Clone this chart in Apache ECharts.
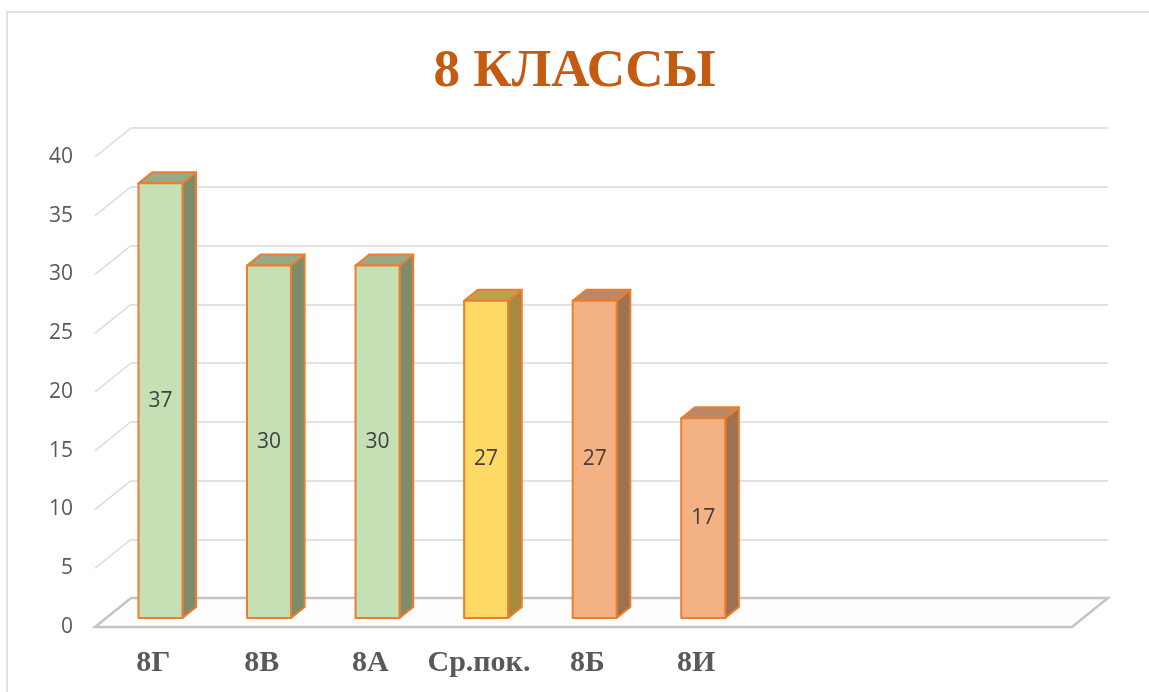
<!DOCTYPE html>
<html>
<head>
<meta charset="utf-8">
<script src="https://cdn.jsdelivr.net/npm/echarts@6/dist/echarts.min.js"></script>
<style>
  html, body { margin: 0; padding: 0; background: #fff; }
  #main { width: 1149px; height: 692px; }
</style>
</head>
<body>
<div id="main"></div>
<script>
// данные
var categories = ['8Г', '8В', '8А', 'Ср.пок.', '8Б', '8И', '', '', ''];
var values = [37, 30, 30, 27, 27, 17, null, null, null];
var yTicks = [0, 5, 10, 15, 20, 25, 30, 35, 40];

// цвета столбцов (перед, бок, верх)
var green = ['#c5e0b4', '#7f8c6c', '#97aa86'];
var yellow = ['#ffd966', '#a68b3c', '#bfa24d'];
var orange = ['#f4b183', '#9e7150', '#bb8966'];
var barPalette = [green, green, green, yellow, orange, orange];

// смещение глубины (псевдо-3D)
var DX = 36, DY = -29;
var D0 = 0.31, D1 = 0.69;

var myChart = echarts.init(document.getElementById('main'));

function renderFloor(params, api) {
    var cs = params.coordSys;
    var y = api.coord([0, 0])[1];
    var xl = cs.x, xr = cs.x + cs.width;
    return {
        type: 'polygon',
        shape: { points: [[xl, y], [xr, y], [xr + DX, y + DY], [xl + DX, y + DY]] },
        style: { fill: '#fefefe', stroke: '#c4c4c4', lineWidth: 2.5 }
    };
}

function renderDiag(params, api) {
    var v = api.value(1);
    if (v === 0) return null;
    var cs = params.coordSys;
    var y = api.coord([0, v])[1];
    return {
        type: 'line',
        shape: { x1: cs.x, y1: y, x2: cs.x + DX, y2: y + DY },
        style: { stroke: '#d9d9d9', lineWidth: 1.5 }
    };
}

function renderBar(params, api) {
    var idx = api.value(0), v = api.value(1);
    var base = api.coord([idx, 0]), top = api.coord([idx, v]);
    var band = api.size([1, 0])[0];
    var w = band * 0.405;
    var pal = barPalette[idx];
    var x0 = base[0] + D0 * DX - w / 2, x1 = x0 + w;
    var yb = base[1] + D0 * DY, yt = top[1] + D0 * DY;
    var ox = (D1 - D0) * DX, oy = (D1 - D0) * DY;
    var border = { stroke: '#ed7d31', lineWidth: 2, lineJoin: 'round' };
    return {
        type: 'group',
        children: [
            {
                type: 'polygon',
                shape: { points: [[x1, yb], [x1, yt], [x1 + ox, yt + oy], [x1 + ox, yb + oy]] },
                style: Object.assign({ fill: pal[1] }, border)
            },
            {
                type: 'polygon',
                shape: { points: [[x0, yt], [x1, yt], [x1 + ox, yt + oy], [x0 + ox, yt + oy]] },
                style: Object.assign({ fill: pal[2] }, border)
            },
            {
                type: 'rect',
                shape: { x: x0, y: yt, width: w, height: yb - yt },
                style: Object.assign({ fill: pal[0] }, border)
            },
            {
                type: 'text',
                style: {
                    text: String(v),
                    x: (x0 + x1) / 2,
                    y: (yt + yb) / 2,
                    align: 'center',
                    verticalAlign: 'middle',
                    fill: '#404040',
                    font: '21px "Open Sans"'
                }
            }
        ]
    };
}

var barData = [];
for (var i = 0; i < values.length; i++) {
    if (values[i] != null) barData.push([i, values[i]]);
}
var diagData = [];
for (var j = 0; j < yTicks.length; j++) {
    diagData.push([0, yTicks[j]]);
}

myChart.setOption({
    animation: false,
    title: {
        text: '8 КЛАССЫ',
        left: 'center',
        top: 41,
        textStyle: {
            fontFamily: 'Liberation Serif',
            fontWeight: 'bold',
            fontSize: 53,
            color: '#c55a11'
        }
    },
    graphic: [{
        type: 'rect',
        shape: { x: 7, y: 12, width: 1200, height: 720 },
        style: { fill: 'none', stroke: '#d9d9d9', lineWidth: 1.5 },
        z: -10
    }],
    grid: [
        { left: 95, right: 77, top: 157, bottom: 65 },
        { left: 131, right: 41, top: 128, bottom: 94 }
    ],
    xAxis: [
        {
            type: 'category',
            gridIndex: 0,
            data: categories,
            axisLine: { show: false },
            axisTick: { show: false },
            axisLabel: {
                interval: 0,
                margin: 21,
                padding: [0, 0, 0, 8],
                fontFamily: 'Liberation Serif',
                fontWeight: 'bold',
                fontSize: 30,
                color: '#595959'
            }
        },
        {
            type: 'category',
            gridIndex: 1,
            data: categories,
            show: false
        }
    ],
    yAxis: [
        {
            type: 'value',
            gridIndex: 0,
            min: 0,
            max: 40,
            interval: 5,
            axisLine: { show: false },
            axisTick: { show: false },
            splitLine: { show: false },
            axisLabel: {
                margin: 22,
                fontFamily: 'Open Sans',
                fontSize: 21,
                color: '#595959'
            }
        },
        {
            type: 'value',
            gridIndex: 1,
            min: 0,
            max: 40,
            interval: 5,
            axisLine: { show: false },
            axisTick: { show: false },
            axisLabel: { show: false },
            splitLine: { lineStyle: { color: '#d9d9d9', width: 1.5 } }
        }
    ],
    series: [
        {
            type: 'custom',
            xAxisIndex: 0,
            yAxisIndex: 0,
            renderItem: renderFloor,
            data: [[0, 0]],
            silent: true,
            z: 1
        },
        {
            type: 'custom',
            xAxisIndex: 0,
            yAxisIndex: 0,
            renderItem: renderDiag,
            data: diagData,
            silent: true,
            z: 1
        },
        {
            type: 'custom',
            xAxisIndex: 0,
            yAxisIndex: 0,
            renderItem: renderBar,
            data: barData,
            z: 3
        }
    ]
});
</script>
</body>
</html>
